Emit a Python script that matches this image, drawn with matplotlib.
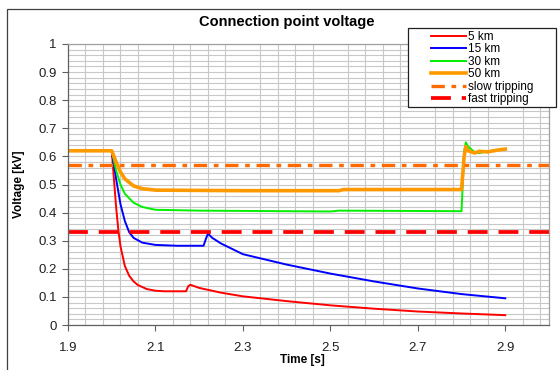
import matplotlib
matplotlib.use("Agg")
import matplotlib.pyplot as plt
import numpy as np
from matplotlib.patches import Rectangle
from matplotlib.ticker import MultipleLocator

plt.rcParams['font.family'] = ['Liberation Sans', 'DejaVu Sans']

# ---- data ----
t_5km = [1.9, 2.0, 2.005, 2.01, 2.015, 2.02, 2.03, 2.04, 2.05, 2.06, 2.08, 2.1, 2.12, 2.15, 2.17,
         2.175, 2.18, 2.2, 2.25, 2.3, 2.4, 2.5, 2.6, 2.7, 2.8, 2.9]
v_5km = [0.62, 0.62, 0.52, 0.42, 0.34, 0.28, 0.21, 0.175, 0.155, 0.142, 0.128, 0.122, 0.12, 0.12, 0.12,
         0.138, 0.143, 0.132, 0.115, 0.102, 0.085, 0.07, 0.058, 0.048, 0.041, 0.035]

t_15km = [1.9, 2.0, 2.01, 2.02, 2.03, 2.04, 2.05, 2.07, 2.1, 2.15, 2.21, 2.215, 2.22, 2.23, 2.25,
          2.3, 2.4, 2.5, 2.6, 2.7, 2.8, 2.9]
v_15km = [0.62, 0.62, 0.52, 0.43, 0.37, 0.33, 0.31, 0.293, 0.285, 0.282, 0.282, 0.305, 0.325, 0.31, 0.29,
          0.252, 0.215, 0.183, 0.155, 0.13, 0.11, 0.095]

t_30km = [1.9, 2.0, 2.01, 2.02, 2.03, 2.05, 2.07, 2.1, 2.2, 2.5, 2.52, 2.8, 2.806, 2.81, 2.815,
          2.83, 2.84, 2.86, 2.88, 2.9]
v_30km = [0.62, 0.62, 0.55, 0.5, 0.467, 0.435, 0.42, 0.41, 0.407, 0.404, 0.407, 0.405, 0.62, 0.65, 0.635,
          0.615, 0.612, 0.618, 0.622, 0.626]

t_50km = [1.9, 2.0, 2.01, 2.02, 2.03, 2.05, 2.07, 2.1, 2.3, 2.52, 2.53, 2.8, 2.806, 2.81, 2.815,
          2.83, 2.84, 2.86, 2.88, 2.9]
v_50km = [0.62, 0.62, 0.58, 0.545, 0.52, 0.495, 0.485, 0.48, 0.478, 0.478, 0.482, 0.482, 0.6, 0.635, 0.62,
          0.612, 0.618, 0.616, 0.622, 0.626]

slow_trip = 0.57
fast_trip = 0.33

x_ticks = [1.9, 2.1, 2.3, 2.5, 2.7, 2.9]
x_ticklabels = ["1.9", "2.1", "2.3", "2.5", "2.7", "2.9"]
y_ticks = [0, 0.1, 0.2, 0.3, 0.4, 0.5, 0.6, 0.7, 0.8, 0.9, 1.0]
y_ticklabels = ["0", "0.1", "0.2", "0.3", "0.4", "0.5", "0.6", "0.7", "0.8", "0.9", "1"]

W, H = 560, 370
fig = plt.figure(figsize=(W / 100, H / 100), dpi=100)
ax = fig.add_axes([68 / W, 1 - 325 / H, (549 - 68) / W, (325 - 44) / H])

# figure border
fig.patches.append(Rectangle((7 / W, -0.1), 1.2, 1 - 9 / H + 0.1, transform=fig.transFigure,
                             fill=False, edgecolor='#404040', lw=0.9, zorder=0))

ax.set_xlim(1.9, 3.0)
ax.set_ylim(0, 1)

# grid
ax.xaxis.set_minor_locator(MultipleLocator(0.04, offset=0.02))
ax.yaxis.set_minor_locator(MultipleLocator(0.02))
ax.grid(True, which='minor', color='#C8C8C8', lw=0.8)
ax.grid(True, which='major', axis='y', color='#C8C8C8', lw=0.8)
ax.tick_params(which='minor', length=0)
ax.set_axisbelow(True)

ax.set_xticks(x_ticks)
ax.set_xticklabels(x_ticklabels)
ax.set_yticks(y_ticks)
ax.set_yticklabels(y_ticklabels)
ax.tick_params(which='major', length=4, width=0.8, color='#606060', labelsize=9.5, labelcolor='#202020')
ax.tick_params(axis='y', pad=4)
ax.tick_params(axis='x', pad=8)
for side, sp in ax.spines.items():
    sp.set_color('#A0A0A0' if side in ('top', 'right') else '#606060')
    sp.set_linewidth(0.9)

l1, = ax.plot(t_5km, v_5km, color='#FF0000', lw=1.4, label='5 km')
l2, = ax.plot(t_15km, v_15km, color='#0000FF', lw=1.4, label='15 km')
l3, = ax.plot(t_30km, v_30km, color='#00F000', lw=1.4, label='30 km')
l4, = ax.plot(t_50km, v_50km, color='#FF9900', lw=2.6, label='50 km')
l5 = ax.axhline(slow_trip, color='#FF6A00', lw=2.4, ls=(0, (4.0, 2.0, 1.4, 2.0)), label='slow tripping')
l6 = ax.axhline(fast_trip, color='#FF0000', lw=2.7, ls=(0, (5.3, 2.9)), label='fast tripping')

ax.set_xlabel('Time [s]', fontsize=8.5, fontweight='bold')
ax.xaxis.set_label_coords((302 - 68) / 481, (325 - 354.5) / 281)
ax.set_ylabel('Voltage [kV]', fontsize=8.5, fontweight='bold')
ax.yaxis.set_label_coords((25 - 68) / 481, 0.5)
fig.text(287 / W, 1 - 22 / H, 'Connection point voltage', ha='center', va='center',
         fontsize=10.5, fontweight='bold')

# legend box
fig.patches.append(Rectangle((408 / W, 1 - 107 / H), (556 - 408) / W, (107 - 28) / H,
                             transform=fig.transFigure, facecolor='white', edgecolor='#202020',
                             lw=0.9, zorder=5))
leg = fig.legend(handles=[l1, l2, l3, l4, l5, l6], loc='upper left',
                 bbox_to_anchor=(431 / W, 1 - 31 / H), frameon=False, fontsize=8.5,
                 handlelength=2.95, handletextpad=0.17, labelspacing=0.04, borderpad=0,
                 borderaxespad=0)
leg.set_zorder(6)

fig.savefig('out.png', dpi=100)
